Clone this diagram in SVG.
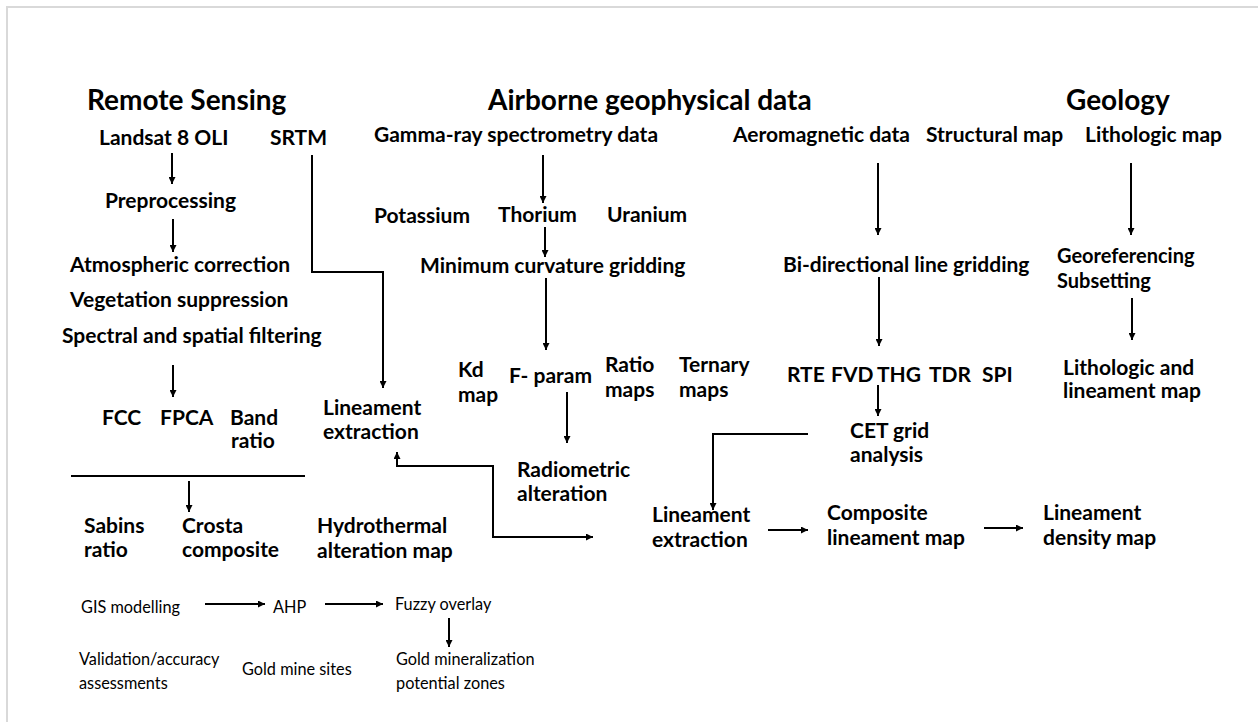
<svg xmlns="http://www.w3.org/2000/svg" width="1258" height="722" viewBox="0 0 1258 722">
<defs>
<style>
.t{font-family:Lato,"Liberation Sans",sans-serif;font-weight:700;font-size:21px;fill:#000}
.s{font-size:20px}
.h{font-family:Lato,"Liberation Sans",sans-serif;font-weight:700;font-size:28px;fill:#000}
.r{font-family:Lato,"Liberation Sans",sans-serif;font-weight:400;font-size:16.3px;fill:#000}
.c{stroke:#000;stroke-width:2;fill:none}
.a{marker-end:url(#ah)}
.b{marker-start:url(#ah);marker-end:url(#ah)}
</style>
<marker id="ah" viewBox="0 0 10 10" refX="10" refY="5" markerWidth="7" markerHeight="7" markerUnits="userSpaceOnUse" orient="auto-start-reverse">
<path d="M0,0 L10,5 L0,10 z" fill="#000"/>
</marker>
</defs>
<rect x="0" y="0" width="1258" height="722" fill="#fff"/>
<rect x="7" y="7" width="1262" height="730" fill="none" stroke="#d9d9d9" stroke-width="2"/>

<g id="connectors">
<path class="c a" d="M172,153 V184"/>
<path class="c a" d="M173,219 V252"/>
<path class="c a" d="M173,365 V397"/>
<path class="c" d="M71,476 H305"/>
<path class="c a" d="M189,481 V512"/>
<path class="c a" d="M312,155 V272 H383 V388"/>
<path class="c b" d="M397,452 V466 H493 V537 H593"/>
<path class="c a" d="M543,155 V203"/>
<path class="c a" d="M545,227 V257"/>
<path class="c a" d="M546,278 V350"/>
<path class="c a" d="M567,392 V443"/>
<path class="c a" d="M878,163 V235"/>
<path class="c a" d="M879,277 V346"/>
<path class="c a" d="M878,385 V416"/>
<path class="c a" d="M808,434 H713 V510"/>
<path class="c a" d="M768,530 H808"/>
<path class="c a" d="M984,528 H1023"/>
<path class="c a" d="M1131,163 V235"/>
<path class="c a" d="M1132,298 V340"/>
<path class="c a" d="M205,604 H265"/>
<path class="c a" d="M325,604 H383"/>
<path class="c a" d="M449,618 V647"/>
</g>

<g id="hdr-remote"><text class="h" x="87" y="110">Remote Sensing</text></g>
<g id="hdr-airborne"><text class="h" x="488" y="110">Airborne geophysical data</text></g>
<g id="hdr-geology"><text class="h" x="1066" y="110">Geology</text></g>

<g id="landsat"><text class="t" x="99" y="145">Landsat 8 OLI</text></g>
<g id="srtm"><text class="t" x="270" y="145">SRTM</text></g>
<g id="preprocessing"><text class="t" x="105" y="208">Preprocessing</text></g>
<g id="atmospheric"><text class="t" x="70" y="272">Atmospheric correction</text></g>
<g id="vegetation"><text class="t" x="70" y="307">Vegetation suppression</text></g>
<g id="spectral"><text class="t" x="62" y="343">Spectral and spatial filtering</text></g>
<g id="fcc"><text class="t" x="102" y="425">FCC</text></g>
<g id="fpca"><text class="t" x="160" y="425">FPCA</text></g>
<g id="bandratio"><text class="t" x="230" y="425">Band</text><text class="t" x="231" y="448">ratio</text></g>
<g id="sabins"><text class="t" x="84" y="533">Sabins</text><text class="t" x="84" y="557">ratio</text></g>
<g id="crosta"><text class="t" x="182" y="533">Crosta</text><text class="t" x="182" y="557">composite</text></g>
<g id="hydrothermal"><text class="t" x="317" y="533">Hydrothermal</text><text class="t" x="317" y="558">alteration map</text></g>
<g id="lineament1"><text class="t" x="323" y="415">Lineament</text><text class="t" x="323" y="439">extraction</text></g>

<g id="gamma"><text class="t" x="374" y="142">Gamma-ray spectrometry data</text></g>
<g id="potassium"><text class="t" x="374" y="223">Potassium</text></g>
<g id="thorium"><text class="t" x="498" y="222">Thorium</text></g>
<g id="uranium"><text class="t" x="607" y="222">Uranium</text></g>
<g id="mincurv"><text class="t" x="420" y="273">Minimum curvature gridding</text></g>
<g id="kd"><text class="t" x="458" y="377">Kd</text><text class="t" x="458" y="402">map</text></g>
<g id="fparam"><text class="t" x="509" y="383">F- param</text></g>
<g id="ratio"><text class="t" x="605" y="372">Ratio</text><text class="t" x="605" y="397">maps</text></g>
<g id="ternary"><text class="t" x="679" y="372">Ternary</text><text class="t" x="679" y="397">maps</text></g>
<g id="radiometric"><text class="t" x="517" y="477">Radiometric</text><text class="t" x="517" y="501">alteration</text></g>

<g id="aeromag"><text class="t" x="733" y="142">Aeromagnetic data</text></g>
<g id="structural"><text class="t" x="926" y="142">Structural map</text></g>
<g id="lithologic"><text class="t" x="1085" y="142">Lithologic map</text></g>
<g id="bidir"><text class="t" x="783" y="272">Bi-directional line gridding</text></g>
<g id="rte"><text class="t" x="787" y="382">RTE</text></g>
<g id="fvd"><text class="t" x="831" y="382">FVD</text></g>
<g id="thg"><text class="t" x="877" y="382">THG</text></g>
<g id="tdr"><text class="t" x="929" y="382">TDR</text></g>
<g id="spi"><text class="t" x="982" y="382">SPI</text></g>
<g id="cet"><text class="t" x="850" y="438">CET grid</text><text class="t" x="850" y="462">analysis</text></g>
<g id="lineament2"><text class="t" x="652" y="522">Lineament</text><text class="t" x="652" y="547">extraction</text></g>
<g id="composite"><text class="t" x="827" y="520">Composite</text><text class="t" x="827" y="545">lineament map</text></g>
<g id="density"><text class="t" x="1043" y="520">Lineament</text><text class="t" x="1043" y="545">density map</text></g>

<g id="georef"><text class="t s" x="1057" y="263">Georeferencing</text><text class="t s" x="1057" y="288">Subsetting</text></g>
<g id="litholin"><text class="t" x="1063" y="375">Lithologic and</text><text class="t" x="1063" y="398">lineament map</text></g>

<g id="gis"><text class="r" x="81" y="613">GIS modelling</text></g>
<g id="ahp"><text class="r" x="273" y="613">AHP</text></g>
<g id="fuzzy"><text class="r" x="395" y="610">Fuzzy overlay</text></g>
<g id="validation"><text class="r" x="79" y="665">Validation/accuracy</text><text class="r" x="79" y="689">assessments</text></g>
<g id="goldmine"><text class="r" x="242" y="675">Gold mine sites</text></g>
<g id="goldzones"><text class="r" x="396" y="665">Gold mineralization</text><text class="r" x="396" y="689">potential zones</text></g>
</svg>
